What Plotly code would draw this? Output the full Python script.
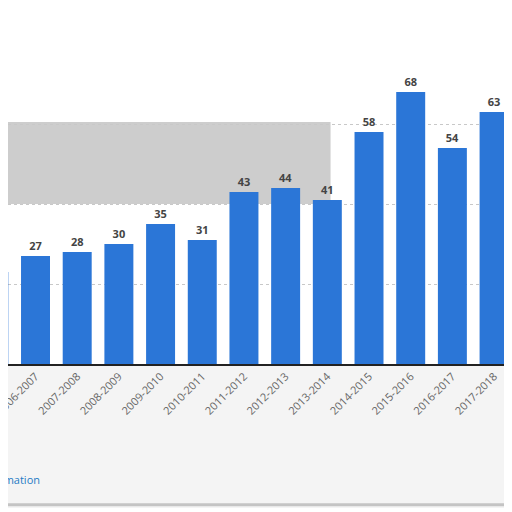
import plotly.graph_objects as go

seasons = [
    "2005-2006", "2006-2007", "2007-2008", "2008-2009", "2009-2010",
    "2010-2011", "2011-2012", "2012-2013", "2013-2014", "2014-2015",
    "2015-2016", "2016-2017", "2017-2018",
]
values = [23, 27, 28, 30, 35, 31, 43, 44, 41, 58, 68, 54, 63]
grid_ticks = [0, 20, 40, 60]

fig = go.Figure()

fig.add_trace(go.Bar(
    x=seasons,
    y=values,
    text=values,
    textposition="outside",
    cliponaxis=False,
    textfont=dict(family="Open Sans", size=11, color="#444444", weight="bold"),
    marker=dict(color="#2b76d7", line_width=0),
    hoverinfo="x+y",
))

# grey smudge band behind the bars and light footer area
fig.add_shape(type="rect", xref="paper", yref="y", x0=0, x1=0.64, y0=40, y1=60.5,
              fillcolor="#cdcdcd", line_width=0, layer="below")
fig.add_shape(type="rect", xref="paper", yref="paper", x0=0, x1=1, y0=-0.45, y1=0,
              fillcolor="#f4f4f4", line_width=0, layer="below")
fig.add_shape(type="line", xref="paper", yref="paper", x0=0, x1=1, y0=-0.44, y1=-0.44,
              line=dict(color="#c4c4c4", width=3))

fig.add_annotation(text="Additional Information", xref="paper", yref="paper",
                   x=34 / 504, y=-0.36, xanchor="right", yanchor="middle",
                   showarrow=False, font=dict(family="Open Sans", size=11, color="#1f7bc4"))

# page body has an 8px margin, so the figure is 504 wide and the range is shifted
fig.update_layout(
    width=504,
    height=504,
    margin=dict(l=0, r=0, t=36, b=148),
    paper_bgcolor="white",
    plot_bgcolor="white",
    bargap=0.305,
    showlegend=False,
    xaxis=dict(
        range=[0.34, 12.43],
        automargin=False,
        tickangle=-45,
        tickfont=dict(family="Open Sans", size=11, color="#666666"),
        showline=True,
        linecolor="#222222",
        linewidth=1.5,
        ticks="",
        showgrid=False,
    ),
    yaxis=dict(
        range=[0, 80],
        automargin=False,
        tickvals=grid_ticks,
        showticklabels=False,
        gridcolor="#c8c8c8",
        griddash="dot",
        gridwidth=1,
        zeroline=False,
    ),
)

fig.write_html("out.html")
